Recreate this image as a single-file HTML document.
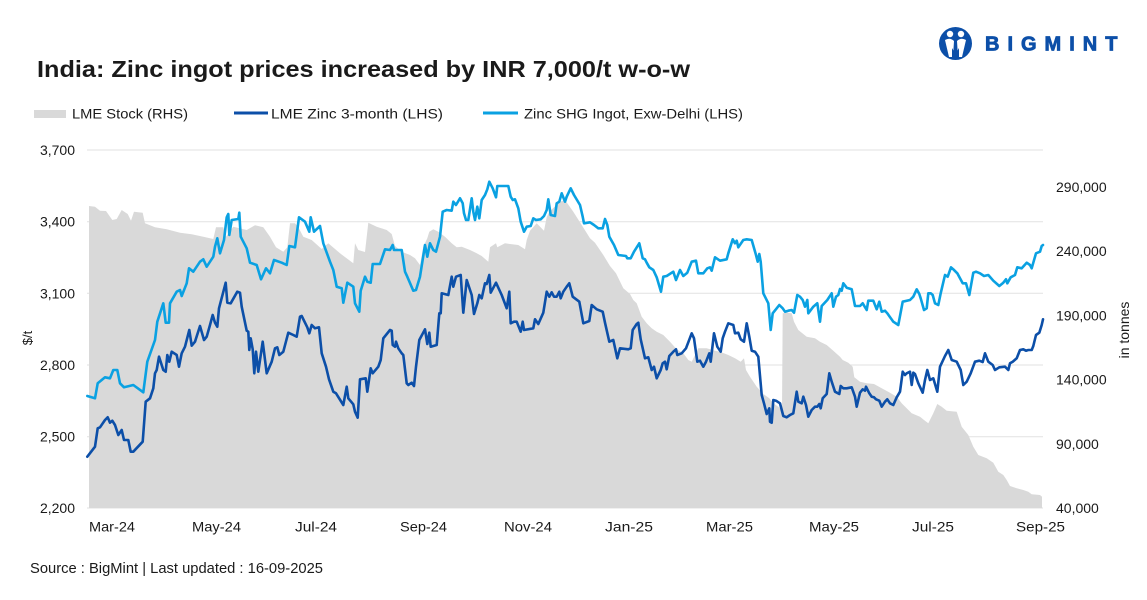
<!DOCTYPE html>
<html><head><meta charset="utf-8"><style>
html,body{margin:0;padding:0;background:#fff;}
svg{display:block;}
text{font-family:"Liberation Sans",Arial,sans-serif;fill:#1a1a1a;}
</style></head><body>
<svg width="1147" height="600" viewBox="0 0 1147 600" xmlns="http://www.w3.org/2000/svg">
<rect width="1147" height="600" fill="#fff"/>
<!-- Title -->
<text x="37" y="77" font-size="23" font-weight="bold" fill="#111" textLength="653" lengthAdjust="spacingAndGlyphs">India: Zinc ingot prices increased by INR 7,000/t w-o-w</text>
<!-- Logo -->
<g>
<circle cx="955.5" cy="43.5" r="16.5" fill="#0c4fa8"/>
<circle cx="950" cy="34" r="3.2" fill="#fff"/>
<circle cx="961" cy="34" r="3.2" fill="#fff"/>
<path d="M945 40 Q950 37 954 41 L953 57 L949 57 Z" fill="#fff"/>
<path d="M966 40 Q961 37 957 41 L958 57 L962 57 Z" fill="#fff"/>
<path d="M952 48 L955.5 54 L959 48 L959 58 L952 58 Z" fill="#0c4fa8"/>
<text x="985" y="50.5" font-size="20" font-weight="bold" letter-spacing="8" stroke="#0c4fa8" stroke-width="0.8" style="fill:#0c4fa8">BIGMINT</text>
</g>
<!-- Legend -->
<rect x="34" y="110" width="32" height="8" fill="#d9d9d9"/>
<text x="72" y="118.5" font-size="14" textLength="116" lengthAdjust="spacingAndGlyphs">LME Stock (RHS)</text>
<line x1="234" y1="113" x2="268" y2="113" stroke="#0c4fa8" stroke-width="3"/>
<text x="271" y="118.5" font-size="14" textLength="172" lengthAdjust="spacingAndGlyphs">LME  Zinc  3-month (LHS)</text>
<line x1="483" y1="113" x2="518" y2="113" stroke="#0aa1e2" stroke-width="3"/>
<text x="524" y="118.5" font-size="14" textLength="219" lengthAdjust="spacingAndGlyphs">Zinc SHG Ingot, Exw-Delhi (LHS)</text>
<!-- Gridlines -->
<g stroke="#e2e2e2" stroke-width="1">
<line x1="87" y1="150" x2="1043" y2="150"/>
<line x1="87" y1="221.7" x2="1043" y2="221.7"/>
<line x1="87" y1="293.3" x2="1043" y2="293.3"/>
<line x1="87" y1="365" x2="1043" y2="365"/>
<line x1="87" y1="436.7" x2="1043" y2="436.7"/>
<line x1="87" y1="508" x2="1043" y2="508"/>
</g>
<!-- Gray area -->
<polygon fill="#d9d9d9" points="89,508 89,206 95,206.7 100,210.7 106,211 112.3,220 116.7,219 121.7,210 127.7,214 131,220.7 134,211.7 138.3,212.3 142.7,212.7 145,223.3 155,227.3 166.7,229.3 180,232.7 191.7,234.3 203.3,236.7 213.3,239 216,227.3 223.3,227.3 226,236.7 233.3,226.7 246.7,230 255,225.3 263.3,227.3 270,236.7 276,247.3 283.3,251.7 287.3,247.3 290,223.3 295,223.3 298.3,227.3 303.3,236.7 311.7,240 321.7,249 328.3,243.3 340,253.3 353.3,263.3 355,243.3 358.3,250 365,252 368.3,222.7 376.7,226.7 386.7,230 391.7,234 395,246 401.7,251.7 410,255 415,258.3 420,265 423.3,246.7 427.3,238.3 429.3,231.7 433.3,229.3 438.3,231.7 445,236.7 451.7,243.3 456.7,247.3 461.7,246.7 470,250 476.7,253.3 481.7,256 488.3,261.7 490,247.3 496,243.3 497.3,247.3 505,243.3 510,244 518.3,245 525,249.3 526.7,240 530,230.7 536.7,223.3 544,230.7 546.7,217.3 549.3,211.7 560,201.7 565,200 573.3,211.7 581.7,225 590,238.3 595,242.7 603.3,255 610,266 616,273.3 623.3,288.3 630,294 633.3,300 636.7,303.3 641.7,316.7 646.7,323.3 651.7,328.3 656.7,331.7 663.3,335 670,341.7 676.7,349.3 683.3,353.3 688.3,360 691.7,361.7 698.3,348.3 706.7,348.3 715,350.7 720,351.7 728.3,355 735,358.3 740.7,361.7 744,358.3 746,370 750,376.7 756.7,386.7 763.3,394 769.3,398.3 773.3,403.3 778.3,406.7 782,410 782.7,313.3 786.7,312.7 791.7,313.3 794,321.7 798.3,330 806.7,336.7 815,338.3 820,341.7 826.7,345 833.3,350.7 840,356.7 842.7,360 848.3,362.7 852.7,366.7 854.3,377.3 860,381.7 866.7,383.3 874,384 881.7,388.3 890,392.7 896.7,396.7 901.7,403.3 906.7,408.3 911.7,413.3 920,416.7 924,420 928.3,423.3 933.3,413.3 937.3,404 941.7,406.7 946.7,410.7 956.7,411.7 961.7,426.7 968.3,435 973.3,446.7 978.3,455 986.7,458.3 993.3,462.7 998.3,471.7 1003.3,475 1006.7,480 1010,486 1016.7,488.3 1023.3,490 1028.3,491.7 1031.7,494.3 1040,495 1042,496.7 1042,508"/>
<!-- Light blue: Zinc SHG -->
<polyline fill="none" stroke="#0aa1e2" stroke-width="2.6" stroke-linejoin="round" stroke-linecap="round" points="87.3,396 95,398.3 97.7,383.3 105,377.3 110,378.3 113.3,370 117.3,370 120,383.3 124,387.3 133.3,385 143.3,392.3 147.3,361.7 155,340 157.3,321.7 163.3,303.3 165.7,322.7 169,322.7 170,303.3 176.7,291.7 180,290 181.7,296 186.7,283.3 189,268.3 193.3,271.7 200,261.7 203.3,259.3 206.7,266.7 213.3,256.7 215,246.7 217.3,238.3 220,253.3 224,240 226.7,217.3 228.3,214 229.3,235 231.7,220 238.3,219 239.3,212.7 240.7,236.7 246.7,248.3 250,262.7 256.7,265 261,279.3 266,268.3 270,273.3 274,260 281.7,262.7 286.7,265 289.3,246 295,247.3 299,217.3 305,221.7 309.3,231.7 310.7,217.3 314,231.7 320,226 323.3,243.3 330,261.7 333.3,270 336.7,286.7 341.7,288.3 343.3,302.7 347.3,282.7 353.3,286.7 355,303.3 359.3,311.7 360.7,290.7 365,276.7 367.3,281.7 370.7,282.7 372.7,264 380,264 385,249.3 390,250 392.7,245 394,250 401.7,250 405,271.7 407.3,276.7 413.3,290.7 416,290 420,276.7 425,245 427.3,256.7 430,243.3 433.3,250 436,251.7 440,236.7 442.7,211.7 446.7,210 451.7,210.7 453.3,201.7 456,205 460,198.3 462.7,203.3 464,213.3 466,220 468.3,220 471.7,198.3 473.3,211.7 475,220 477.3,206.7 479.3,218.3 481.7,200 485,195 487.3,189.3 489.3,181.7 492.7,188.3 496,197.3 497.3,186 508.3,186 510.7,196.7 512.7,200 515,199.3 518.3,208.3 520.7,221.7 524,231.7 526.7,226.7 530.7,226 533.3,218.3 536,220 540.7,219.3 544,216 546.7,210 548.3,199.3 550.7,215 555,216 556.7,203.3 559.3,201.7 561.7,193.3 565,201.7 566.7,196.7 570.7,188.3 574,195 580,205 582.7,216.7 584,223.3 590,222.3 594,225 598.3,228.3 602.7,228.3 605,219 607.3,225 609.3,236.7 614,245 618.3,255 626,256 627.3,258.3 630.7,258.3 634,251.7 639.3,243.3 642.7,258.3 645,259.3 646.7,262.7 649.3,267.3 653.3,270 656.7,277.3 661,291.7 663.3,276.7 666.7,276 673.3,271.7 676,280 680,270 683.3,276 687.3,272.7 691.7,261.7 696,260.7 698.3,273.3 703.3,273.3 707.3,268.3 710,267.3 711.7,270.7 715,257.3 720,260.7 726.7,259.3 728.3,253.3 732.7,239.3 735,243.3 736.7,240.7 738.3,247.3 743.3,240 746.7,239.3 751.7,240 756,255 757.7,261.7 759.3,254 760.7,261.7 763.3,293.3 768.3,303.3 770.7,330 772.7,313.3 776.7,308.3 779.3,305 782.7,308.3 785,311.7 788.3,310.7 791.7,310 794,312.7 797.3,295 800,296.7 802.7,300 805,306.7 807.3,300 808.3,313.3 813.3,306.7 817.3,303.3 820,321.7 821.7,306 827.3,300 831.7,293.3 833.3,306.7 836,296.7 838.3,295 840,289 841.7,290.7 843.3,283.3 846.7,287.7 851.7,289.3 855,306 860,306 862.7,303.3 866.7,310 868.3,300.7 873.3,300.7 876.7,309.3 879.3,301.7 881.7,311.7 885,310.7 887.3,313.3 893.3,321.7 898.3,325 902.7,301.7 910,300 913.3,296.7 916.7,289.3 919.3,294 920.7,298.3 924,310 926.7,308.3 928.3,293.3 930.7,293.3 932.7,295 935,303.3 938.3,305 940.7,293.3 945,275 947.7,276.7 951,267.3 953.3,269.3 957.3,273.3 962.7,283.3 966,283.3 969.3,295 973.3,272.7 976,271.7 980,273.3 984,276 988.3,275 993.3,280.7 999.3,286 1003.3,282.7 1006,279.3 1007.3,283.3 1010.7,277.3 1015,275 1017.3,267.3 1021.7,268.3 1026.7,262.7 1030,265 1031.7,268.3 1033.3,262.7 1036,253.3 1040,251.7 1041.7,246 1043,245"/>
<!-- Dark blue: LME 3M -->
<polyline fill="none" stroke="#0c4fa8" stroke-width="2.6" stroke-linejoin="round" stroke-linecap="round" points="87.3,456.7 95,446.7 97.7,428.3 100,427.3 105,420 107.7,417.3 110,422.7 112.3,420.7 115,425 118.3,435 121.7,430 124,440 128.3,440 130.7,451.7 133.3,451.7 142.7,441.7 145.7,401.7 150,398.3 153.3,388.3 155,373.3 156.7,370 159,356.7 163.3,370 165.7,371.7 167.3,355 169.3,361.7 171.7,351.7 176.7,355 179,366.7 181.7,353.3 185,346.7 189.3,330 191.7,345.7 195,341.7 200,326 204,340 206.7,336.7 210,325 212.7,315 215,322.7 217.3,326.7 219,308.3 225.7,282.7 227.3,302.7 230.7,303.3 237.3,291.7 240,292.7 241.7,306.7 246.7,330.7 248.3,331.7 249.3,350 250.7,338.3 252.7,349.3 254.3,373.3 256,351.7 258.3,371.7 262.7,341.7 266.7,373.3 271.7,361.7 275,348.3 277.3,347.3 279.3,355 283.3,351.7 288.3,332.7 293.3,335 296.7,336.7 300,316.7 301.7,316 307.3,327.3 309.3,333.3 311.7,325 315,328.3 319,327.3 321.7,353.3 326,366.7 329,379.3 333.3,391.7 336,393.3 343.3,405 346.7,386.7 348.3,398.3 353.3,404.3 355,411.7 357.7,417.7 360,379.3 365.7,378.3 367.3,391.7 370.7,368.3 372.7,373.3 378.3,366.7 380.7,360 383.3,338.3 390,330 391.7,330.7 392.7,345 395,346.7 396,341.7 398.3,348.3 401.7,353.3 403.3,355 406.7,383.3 408.3,385 411.7,382.7 414,386 416,366.7 419.3,340 425,329.3 427.3,344 429.3,332.7 430.7,346.7 436.7,345 439.3,313.3 440.7,313.3 441.7,293.3 448.3,295 451.7,276.7 453.3,286.7 456,276.7 460.7,275 463.3,312.7 466.7,280 471.7,295 474,314 477.3,303.3 479.3,295 481.7,298.3 485,283.3 486.7,284 489.3,275 490.7,292.7 496,282.7 501.7,295 506.7,308.3 509.3,291.7 510.7,323.3 514,321.7 516.7,321.7 520.7,331.7 522.7,321.7 524,330 533.3,328.3 535,319.3 538.3,324 543.3,312.7 546.7,291.7 549.3,296.7 551.7,292.3 554,296.7 556.7,296.7 559.3,291.7 560.7,298.3 563.3,291.7 566.7,286.7 569.3,283.3 572.7,296.7 579.3,301.7 583.3,323.3 589.3,321 591.7,305 596.7,309.3 602.7,311.7 605,322.7 609.3,341.7 613.3,340 617.3,358.3 620,348.3 628.3,349.3 630.7,348.3 632.7,330 636.7,324 638.3,322.7 640.7,339.3 645,358.3 648.3,357.3 651.7,370 654,366.7 656.7,378.3 660.7,370 662.7,363.3 665,361.7 666.7,369.3 669.3,356 673.3,351.7 676,349.3 677.3,355 681.7,353.3 686,348.3 691.7,333.3 694,338.3 697.3,361.7 700,360.7 703.3,366.7 706,361.7 709.3,353.3 710.7,361.7 714,333.3 717.3,346.7 720.7,351.7 722.7,338.3 725,331.7 728.3,323.3 733.3,325 735,333.3 738.3,332.7 740.7,339.3 744,341.7 746.7,323.3 749.3,336.7 751.7,350.7 755,351.7 758.3,356.7 761.7,395 764,403.3 766.7,414 769.3,408.3 770,421.7 771.7,422.7 773.3,400 776,400.7 780,403.3 783.3,416 786.7,417.3 790,415 793.3,413.3 796.7,391.7 798.3,401.7 801.7,403.3 803.3,396.7 806,405 808.3,416.7 811.7,410 815,406.7 817.3,406.7 819.3,404 820.7,408.3 822.7,398.3 826.7,394 829.3,373.3 831.7,381.7 835,391.7 839.3,394 840.7,386 843.3,388.3 846.7,388.3 851.7,387.3 855,396.7 856.7,406.7 860,392.7 862.7,389.3 865,390.7 866,386.7 869.3,393.3 871.7,396.7 874,397.3 876,399.3 879.3,400.7 881.7,406.7 885,401.7 887.3,399.3 890,403.3 893.3,405 896.7,397.3 900,391.7 902.7,371.7 905,375 906.7,373.3 910,371.7 911.7,385 913.3,372.7 915,374 918.3,383.3 922.7,392.7 925,380 927.3,370 930,380 933.3,378.3 937.3,391.7 940,366.7 945,356 948.3,350 951.7,360 956.7,361.7 960.7,370 963.3,385 966.7,381.7 970.7,373.3 975,361.7 979.3,360.7 982.7,362 985,353.3 988.3,361.7 992.7,365 995,370 999.3,367.3 1005,366.7 1008.3,370 1010,363.3 1012.7,361.7 1016.7,358.3 1020,350 1023.3,349.3 1026,350.7 1028.3,350 1031.7,350 1033.3,346 1036,335 1039.3,332.7 1041.7,325 1043,319.3"/>
<!-- Left axis labels -->
<g font-size="14" text-anchor="end">
<text x="75" y="155">3,700</text>
<text x="75" y="226.7">3,400</text>
<text x="75" y="298.3">3,100</text>
<text x="75" y="370">2,800</text>
<text x="75" y="441.7">2,500</text>
<text x="75" y="513">2,200</text>
</g>
<text x="0" y="0" font-size="13" transform="translate(32,338) rotate(-90)" text-anchor="middle">$/t</text>
<!-- Right axis labels -->
<g font-size="14">
<text x="1056" y="192">290,000</text>
<text x="1056" y="256">240,000</text>
<text x="1056" y="320.3">190,000</text>
<text x="1056" y="384.5">140,000</text>
<text x="1056" y="449">90,000</text>
<text x="1056" y="513">40,000</text>
</g>
<text x="0" y="0" font-size="14" transform="translate(1129,330) rotate(-90)" text-anchor="middle">in tonnes</text>
<!-- X axis labels -->
<g font-size="14">
<text x="89" y="531.5" textLength="46" lengthAdjust="spacingAndGlyphs">Mar-24</text>
<text x="192" y="531.5" textLength="49" lengthAdjust="spacingAndGlyphs">May-24</text>
<text x="295" y="531.5" textLength="42" lengthAdjust="spacingAndGlyphs">Jul-24</text>
<text x="400" y="531.5" textLength="47" lengthAdjust="spacingAndGlyphs">Sep-24</text>
<text x="504" y="531.5" textLength="48" lengthAdjust="spacingAndGlyphs">Nov-24</text>
<text x="605" y="531.5" textLength="48" lengthAdjust="spacingAndGlyphs">Jan-25</text>
<text x="706" y="531.5" textLength="47" lengthAdjust="spacingAndGlyphs">Mar-25</text>
<text x="809" y="531.5" textLength="50" lengthAdjust="spacingAndGlyphs">May-25</text>
<text x="912" y="531.5" textLength="42" lengthAdjust="spacingAndGlyphs">Jul-25</text>
<text x="1016" y="531.5" textLength="49" lengthAdjust="spacingAndGlyphs">Sep-25</text>
</g>
<!-- Source -->
<text x="30" y="573" font-size="14.5" textLength="293" lengthAdjust="spacingAndGlyphs">Source : BigMint | Last updated : 16-09-2025</text>
</svg>
</body></html>
